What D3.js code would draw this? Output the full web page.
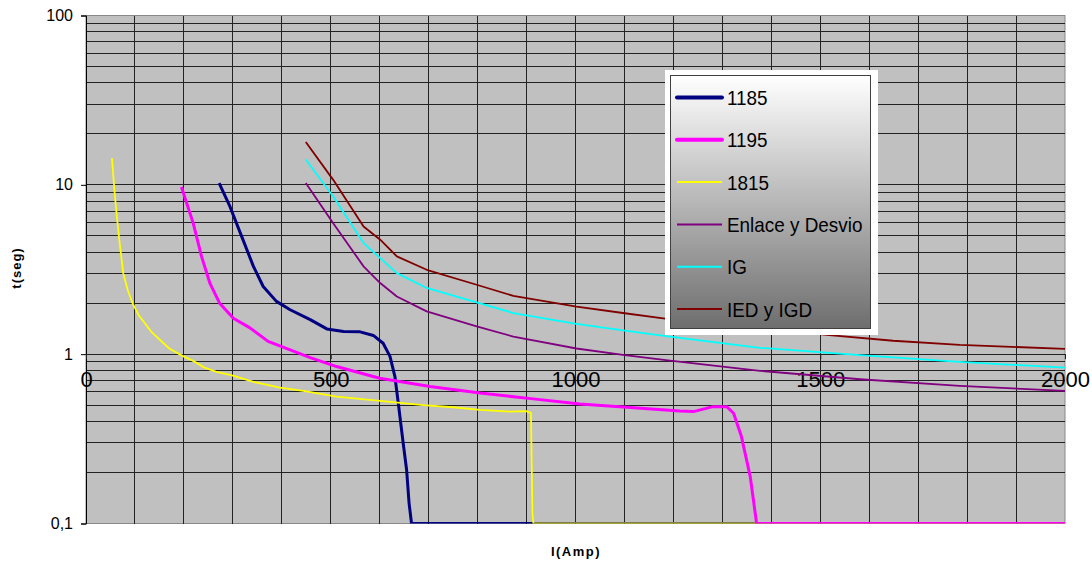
<!DOCTYPE html>
<html>
<head>
<meta charset="utf-8">
<script src="https://cdn.jsdelivr.net/npm/d3@7"></script>
<style>
  body { margin: 0; background: #fff; }
  svg { display: block; font-family: "Liberation Sans", Arial, sans-serif; }
</style>
</head>
<body>
<script>
// current (A) and time (s)
var i1185 = [272, 294, 318, 342, 362, 389, 417, 458, 492, 526, 560, 587, 607, 621, 631, 638, 648, 655, 660, 665, 2000];
var t1185 = [10.25, 7.45, 4.96, 3.30, 2.51, 2.05, 1.83, 1.60, 1.41, 1.36, 1.355, 1.29, 1.16, 0.97, 0.74, 0.513, 0.298, 0.207, 0.132, 0.1, 0.1];

var i1195 = [195, 219, 236, 253, 273, 301, 335, 372, 417, 458, 512, 600, 703, 805, 900, 1009, 1105, 1213, 1241, 1281, 1309, 1323, 1339, 1357, 1370, 2000];
var t1195 = [9.7, 5.94, 3.78, 2.63, 2.0, 1.63, 1.43, 1.19, 1.06, 0.955, 0.845, 0.721, 0.644, 0.589, 0.55, 0.508, 0.486, 0.462, 0.458, 0.49, 0.49, 0.448, 0.326, 0.189, 0.1, 0.1];

var i1815 = [53, 58, 63, 68, 72, 76, 85, 95, 107, 133, 170, 197, 218, 242, 265, 300, 342, 396, 444, 512, 600, 689, 750, 805, 866, 899, 909, 912, 914, 2000];
var t1815 = [14.4, 9.35, 6.5, 4.74, 3.78, 3.01, 2.40, 2.0, 1.71, 1.36, 1.08, 0.977, 0.916, 0.833, 0.789, 0.748, 0.686, 0.635, 0.607, 0.561, 0.530, 0.50, 0.486, 0.469, 0.458, 0.461, 0.45, 0.115, 0.1, 0.1];

var iEnlace = [449, 505, 567, 601, 635, 696, 798, 873, 1002, 1097, 1193, 1377, 1581, 1785, 2000];
var tEnlace = [10.25, 5.94, 3.30, 2.63, 2.19, 1.79, 1.46, 1.27, 1.08, 0.99, 0.916, 0.797, 0.711, 0.650, 0.607];

var iIG = [449, 505, 567, 601, 635, 696, 798, 873, 1002, 1097, 1193, 1377, 1581, 1785, 2000];
var tIG = [14.1, 8.54, 4.53, 3.69, 3.01, 2.46, 2.02, 1.75, 1.51, 1.38, 1.27, 1.09, 0.987, 0.90, 0.833];

var iIED = [449, 505, 567, 601, 635, 696, 798, 873, 1002, 1097, 1183, 1513, 1649, 1785, 2000];
var tIED = [17.9, 10.7, 5.68, 4.74, 3.78, 3.15, 2.57, 2.21, 1.91, 1.75, 1.62, 1.30, 1.20, 1.135, 1.075];

var seriesNames = ['1185', '1195', '1815', 'Enlace y Desvio', 'IG', 'IED y IGD'];
var xTicks = [0, 500, 1000, 1500, 2000];
var yTicks = [0.1, 1, 10, 100];
var yTickLabels = ['0,1', '1', '10', '100'];

var W = 1092, H = 565;
var plotLeft = 86, plotRight = 1065, plotTop = 15.5, plotBottom = 523.5;

var x = d3.scaleLinear().domain([0, 2000]).range([plotLeft, plotRight]);
var y = d3.scaleLog().domain([0.1, 100]).range([plotBottom, plotTop]);

var series = [
  { name: seriesNames[0], i: i1185, t: t1185, color: '#000080', w: 3 },
  { name: seriesNames[1], i: i1195, t: t1195, color: '#ff00ff', w: 3 },
  { name: seriesNames[2], i: i1815, t: t1815, color: '#ffff00', w: 1.8 },
  { name: seriesNames[3], i: iEnlace, t: tEnlace, color: '#800080', w: 1.8 },
  { name: seriesNames[4], i: iIG, t: tIG, color: '#00ffff', w: 1.8 },
  { name: seriesNames[5], i: iIED, t: tIED, color: '#800000', w: 1.8 }
];

var svg = d3.select('body').append('svg')
    .attr('width', W)
    .attr('height', H);

var defs = svg.append('defs');
defs.append('clipPath').attr('id', 'plotclip')
  .append('rect')
    .attr('x', plotLeft).attr('y', plotTop)
    .attr('width', plotRight - plotLeft).attr('height', plotBottom - plotTop);

svg.append('rect')
    .attr('x', plotLeft).attr('y', plotTop)
    .attr('width', plotRight - plotLeft).attr('height', plotBottom - plotTop)
    .attr('fill', '#c0c0c0')
    .attr('stroke', '#888')
    .attr('stroke-width', 1);

// grid
var grid = svg.append('g').attr('shape-rendering', 'crispEdges');
grid.selectAll('.vg')
    .data(d3.range(100, 2000, 100))
  .enter().append('line')
    .attr('x1', function(d) { return x(d); })
    .attr('x2', function(d) { return x(d); })
    .attr('y1', plotTop).attr('y2', plotBottom)
    .attr('stroke', '#222');

var minor = [];
[0.1, 1, 10].forEach(function(dec) {
  for (var k = 1; k < 10; k++) minor.push(dec * k);
});
grid.selectAll('.hg')
    .data(minor.filter(function(d) { return d > 0.1; }))
  .enter().append('line')
    .attr('x1', plotLeft).attr('x2', plotRight)
    .attr('y1', function(d) { return y(d); })
    .attr('y2', function(d) { return y(d); })
    .attr('stroke', '#222');

// y axis
var yAxis = d3.axisLeft(y)
    .tickValues(yTicks)
    .tickSize(5)
    .tickFormat(function(d, i) { return yTickLabels[i]; });
var gy = svg.append('g')
    .attr('transform', 'translate(' + plotLeft + ',0)')
    .call(yAxis);
gy.select('.domain').attr('stroke', '#000');
gy.selectAll('.tick line').attr('stroke', '#000');
gy.selectAll('.tick text')
    .attr('x', -13)
    .style('font-size', '16px')
    .style('font-family', '"Liberation Sans", Arial, sans-serif')
    .attr('fill', '#000');

// x axis crossing at t = 1
var xAxis = d3.axisBottom(x)
    .tickValues(xTicks)
    .tickSize(5)
    .tickPadding(12)
    .tickFormat(d3.format('d'));
var gx = svg.append('g')
    .attr('transform', 'translate(0,' + y(1) + ')')
    .call(xAxis);
gx.select('.domain').attr('stroke', '#222').attr('shape-rendering', 'crispEdges');
gx.selectAll('.tick line').attr('stroke', '#222');
gx.selectAll('.tick text')
    .style('font-size', '22px')
    .style('font-family', '"Liberation Sans", Arial, sans-serif')
    .attr('fill', '#000');

// curves
var line = d3.line()
    .x(function(d) { return x(d[0]); })
    .y(function(d) { return y(d[1]); });

var drawOrder = [0, 2, 1, 3, 4, 5];
var plot = svg.append('g').attr('clip-path', 'url(#plotclip)');
drawOrder.forEach(function(k) {
  var s = series[k];
  plot.append('path')
      .datum(s.i.map(function(v, j) { return [v, s.t[j]]; }))
      .attr('fill', 'none')
      .attr('stroke', s.color)
      .attr('stroke-width', s.w)
      .attr('stroke-linejoin', 'round')
      .attr('d', line);
});

// axis titles
svg.append('text')
    .attr('transform', 'translate(21,268) rotate(-90)')
    .attr('text-anchor', 'middle')
    .style('font-size', '13px')
    .style('font-weight', 'bold')
    .style('letter-spacing', '1px')
    .text('t(seg)');

svg.append('text')
    .attr('x', 576)
    .attr('y', 556)
    .attr('text-anchor', 'middle')
    .style('font-size', '13px')
    .style('font-weight', 'bold')
    .style('letter-spacing', '1.5px')
    .text('I(Amp)');

// legend
var grad = defs.append('linearGradient')
    .attr('id', 'leggrad')
    .attr('x1', 0).attr('y1', 0).attr('x2', 0).attr('y2', 1);
grad.append('stop').attr('offset', '0%').attr('stop-color', '#ffffff');
grad.append('stop').attr('offset', '100%').attr('stop-color', '#6e6e6e');

svg.append('rect')
    .attr('x', 665).attr('y', 70)
    .attr('width', 213).attr('height', 265)
    .attr('fill', '#fff');
svg.append('rect')
    .attr('x', 670.5).attr('y', 75.5)
    .attr('width', 200).attr('height', 253)
    .attr('fill', 'url(#leggrad)')
    .attr('stroke', '#404040')
    .attr('stroke-width', 1);

var legend = svg.selectAll('.legend')
    .data(series)
  .enter().append('g')
    .attr('class', 'legend')
    .attr('transform', function(d, i) { return 'translate(0,' + (97.5 + i * 42.3) + ')'; });
legend.append('line')
    .attr('x1', 677).attr('x2', 722)
    .attr('stroke', function(d) { return d.color; })
    .attr('stroke-width', function(d) { return d.w === 3 ? 4 : 2; })
    .attr('stroke-linecap', function(d) { return d.w === 3 ? 'round' : 'butt'; });
legend.append('text')
    .attr('transform', 'translate(727,0) scale(0.9,1)')
    .attr('dy', '0.36em')
    .style('font-size', '21px')
    .attr('fill', '#000')
    .text(function(d) { return d.name; });
</script>
</body>
</html>
